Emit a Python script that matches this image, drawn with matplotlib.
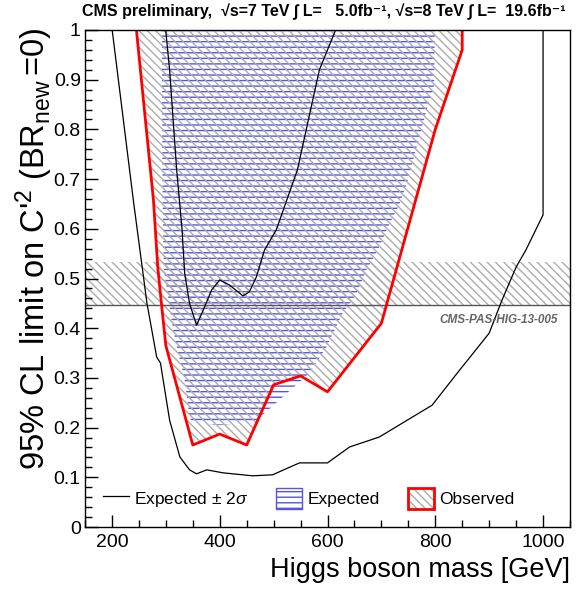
import matplotlib
matplotlib.use("Agg")
import matplotlib.pyplot as plt
from matplotlib.lines import Line2D
from matplotlib.patches import Patch
from matplotlib.legend_handler import HandlerTuple

plt.rcParams['font.family'] = ['Liberation Sans', 'DejaVu Sans']
plt.rcParams['mathtext.fontset'] = 'custom'
plt.rcParams['mathtext.rm'] = 'Liberation Sans'
plt.rcParams['mathtext.it'] = 'Liberation Sans:italic'
plt.rcParams['hatch.linewidth'] = 1.0

# observed limit (red line, hatched region above it)
obs_mass = [240, 250, 277, 285, 293, 300, 350, 400, 450, 500, 550, 600, 700, 800, 850, 850]
obs_lim = [1.06, 0.95, 0.658, 0.523, 0.437, 0.365, 0.165, 0.187, 0.165, 0.286, 0.304, 0.272,
           0.41, 0.80, 0.96, 1.10]

# expected limit (blue hatched region above it)
exp_mass = [292, 294, 296, 307, 313, 322, 335, 344, 350, 400, 450, 469, 517, 567, 598, 628,
            654, 672, 693, 715, 733, 748, 765, 785, 798, 800]
exp_lim = [1.10, 0.66, 0.52, 0.443, 0.40, 0.355, 0.296, 0.22, 0.21, 0.205, 0.21, 0.215, 0.262,
           0.31, 0.362, 0.43, 0.47, 0.517, 0.557, 0.61, 0.648, 0.694, 0.763, 0.843, 0.89, 1.10]

# expected +/- 2 sigma lines
up_mass = [297, 307, 320, 330, 335, 344, 357, 372, 385, 400, 418, 443, 455, 468, 483, 505,
           544, 585, 630]
up_lim = [1.03, 0.92, 0.72, 0.60, 0.51, 0.45, 0.406, 0.443, 0.477, 0.497, 0.487, 0.465, 0.473,
          0.503, 0.557, 0.598, 0.718, 0.92, 1.04]
lo_mass = [197, 240, 265, 283, 290, 307, 326, 344, 357, 376, 406, 461, 498, 548, 600, 641,
           696, 794, 841, 900, 924, 950, 968, 1000, 1000]
lo_lim = [1.03, 0.655, 0.45, 0.342, 0.33, 0.215, 0.141, 0.115, 0.107, 0.115, 0.109, 0.103,
          0.105, 0.129, 0.129, 0.161, 0.181, 0.245, 0.31, 0.39, 0.457, 0.523, 0.557, 0.628, 1.10]

# indirect constraint band
band_lo, band_hi = 0.447, 0.533

blue = '#5656dc'
grey = '#acacac'
diag = chr(92) * 4   # dense "\\" hatch

fig = plt.figure(figsize=(5.81, 5.90), dpi=100)
ax = fig.add_axes([85 / 581, 63 / 590, 485 / 581, 497 / 590])

top = 1.2
ax.fill(exp_mass + [exp_mass[-1], exp_mass[0]], exp_lim + [top, top],
        facecolor='none', edgecolor=blue, hatch='---', lw=0)
ax.fill(obs_mass + [obs_mass[-1], obs_mass[0]], obs_lim + [top, top],
        facecolor='none', edgecolor=grey, hatch=diag, lw=0)
ax.fill_between([150, 1050], band_lo, band_hi, facecolor='none', edgecolor=grey,
                hatch=diag, lw=0)
ax.axhline(band_lo, color='#555555', lw=1)

ax.plot(up_mass, up_lim, color='black', lw=0.9)
ax.plot(lo_mass, lo_lim, color='black', lw=0.9)
ax.plot(obs_mass, obs_lim, color='red', lw=2)

ax.set_xlim(150, 1050)
ax.set_ylim(0, 1)
ax.set_xticks([200, 400, 600, 800, 1000])
ax.set_xticks(range(150, 1051, 50), minor=True)
ax.set_yticks([0, 0.1, 0.2, 0.3, 0.4, 0.5, 0.6, 0.7, 0.8, 0.9, 1])
ax.set_yticklabels(['0', '0.1', '0.2', '0.3', '0.4', '0.5', '0.6', '0.7', '0.8', '0.9', '1'])
ax.set_yticks([i * 0.02 for i in range(51)], minor=True)
ax.tick_params(which='both', direction='in', labelsize=14)
ax.tick_params(which='major', length=9, width=1)
ax.tick_params(which='minor', length=5, width=1)
ax.tick_params(axis='x', pad=5)
ax.tick_params(axis='y', pad=3)
for s in ax.spines.values():
    s.set_linewidth(1.0)

ax.text(1028, 0.417, 'CMS-PAS-HIG-13-005', ha='right', va='center', fontsize=8.5,
        fontweight='bold', style='italic', color='#666666')

h_line = Line2D([], [], color='black', lw=0.9)
h_exp = Patch(facecolor='none', edgecolor=blue, hatch='---', lw=1)
h_obs = (Patch(facecolor='none', edgecolor=grey, hatch=diag, lw=0),
         Patch(facecolor='none', edgecolor='red', lw=2))
ax.legend([h_line, h_exp, h_obs], ['Expected $\\pm$ 2$\\sigma$', 'Expected', 'Observed'],
          handler_map={tuple: HandlerTuple(ndivide=1, pad=0)},
          loc='lower left', bbox_to_anchor=(0.005, 0.005), ncol=3, frameon=False,
          fontsize=12.5, handlelength=1.5, handleheight=1.5, columnspacing=1.6,
          handletextpad=0.3)

fig.text(82 / 581, 1 - 12 / 590,
         'CMS preliminary,  \u221as=7 TeV \u222b L=   5.0fb\u207b\u00b9, \u221as=8 TeV \u222b L=  19.6fb\u207b\u00b9',
         ha='left', va='center', fontsize=11.5, fontweight='bold')
fig.text(34 / 581, 1 - 28 / 590, "95% CL limit on C'$^{2}$ (BR$_{\\rm new}$$\\,$=0)",
         rotation=90, ha='center', va='top', fontsize=23.5)
fig.text(570 / 581, 1 - 570 / 590, 'Higgs boson mass [GeV]', ha='right', va='center',
         fontsize=19.5)

fig.savefig('out.png', dpi=100)
